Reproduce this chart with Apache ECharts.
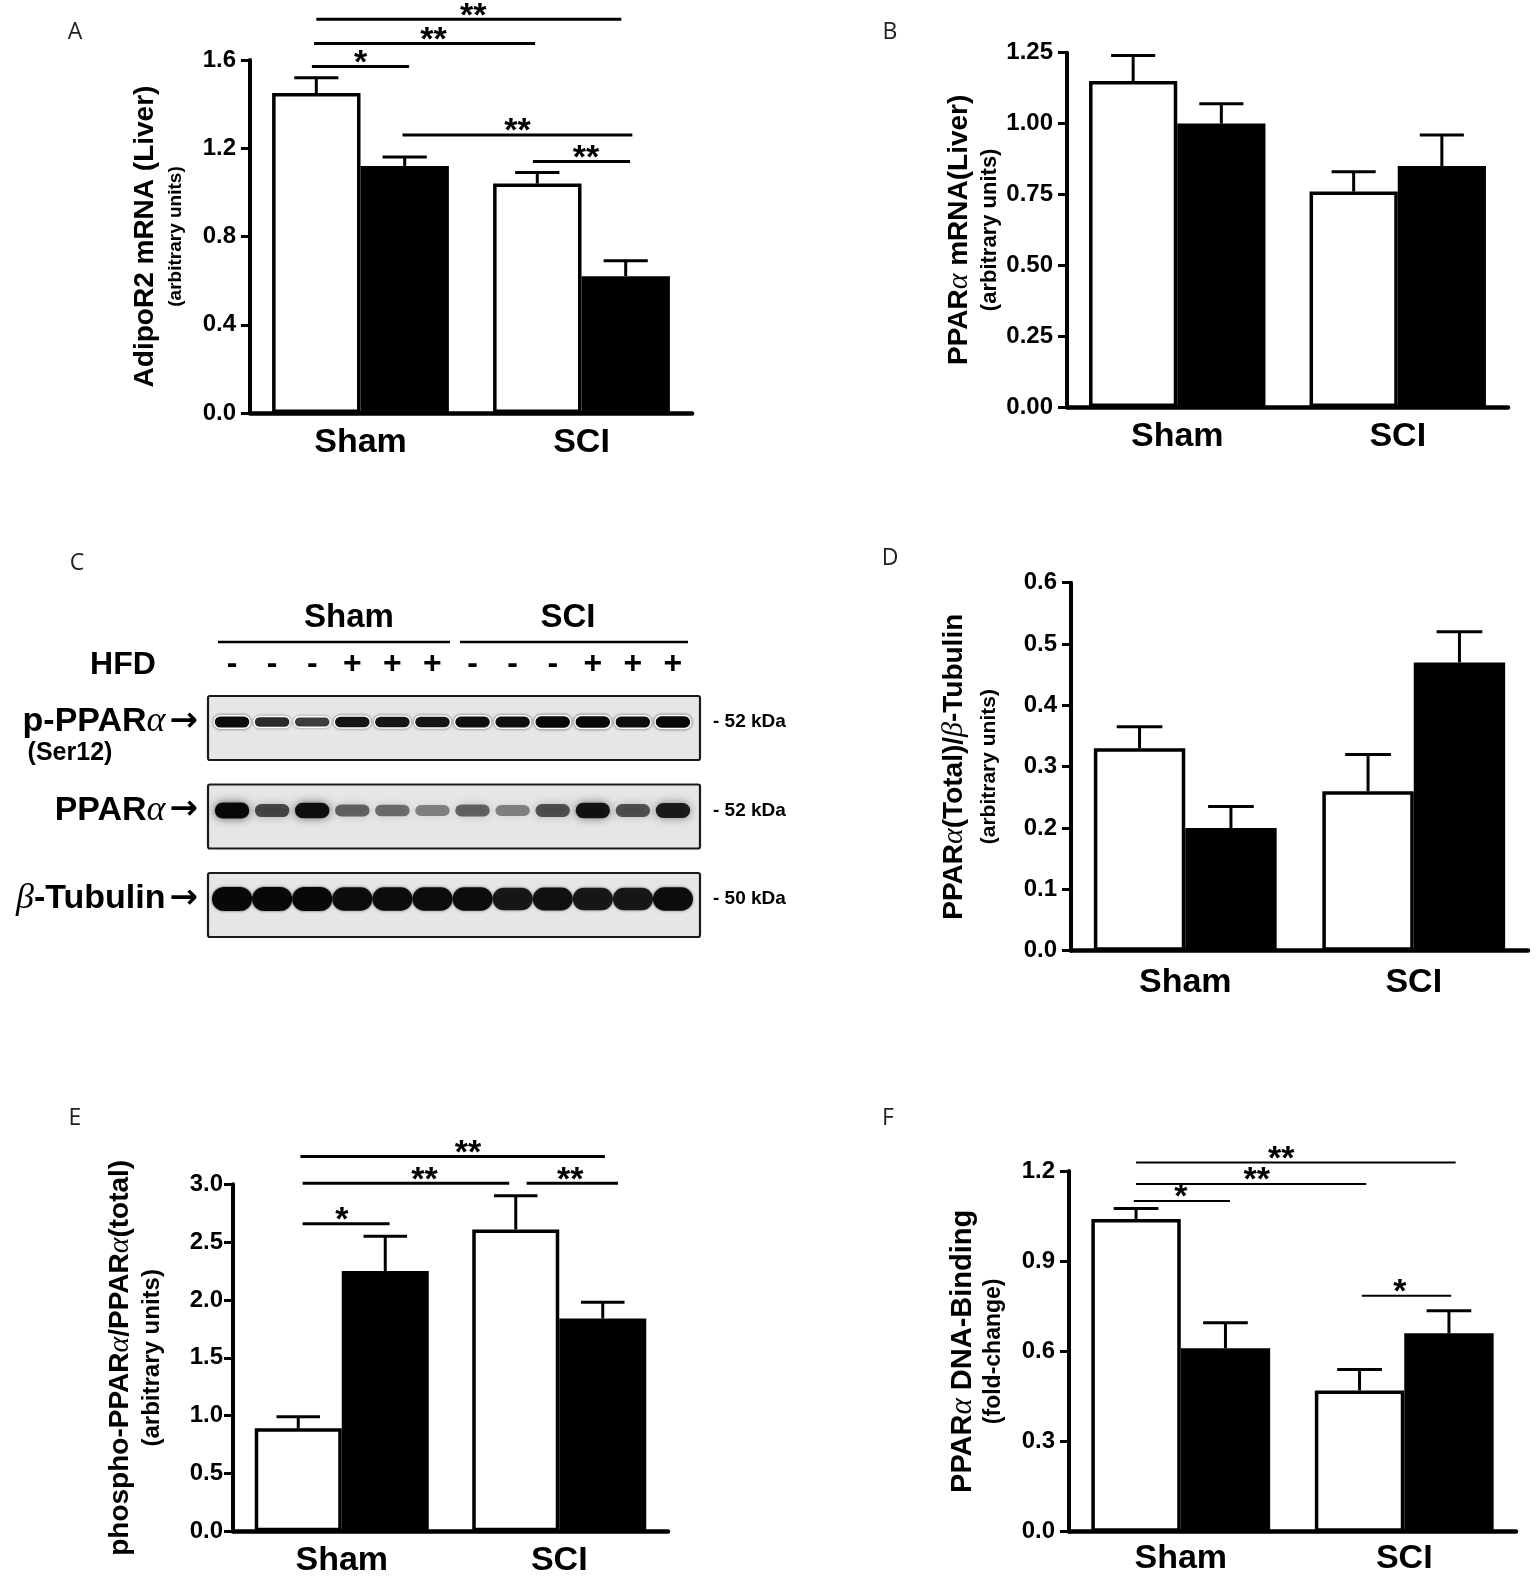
<!DOCTYPE html>
<html lang="en">
<head>
<meta charset="UTF-8">
<title>AdipoR2 / PPARα in liver</title>
<script src="https://cdn.jsdelivr.net/npm/echarts@6/dist/echarts.min.js"></script>
<style>
  body { margin: 0; background: #fff; }
  #chart { width: 1536px; height: 1585px; }
</style>
</head>
<body>
<div id="chart"></div>
<script>
var groups = ['Sham', 'SCI'];
var seriesNames = ['HFD -', 'HFD +'];

// A: AdipoR2 mRNA (liver)
var adipoWhite = [1.45, 1.04];
var adipoWhiteSem = [0.07, 0.05];
var adipoBlack = [1.12, 0.62];
var adipoBlackSem = [0.04, 0.07];
// [from, to, y, text, labelX]  from/to in category units (0 = Sham, 1 = SCI)
var adipoSig = [
  [-0.22, 0.22, 1.57, '*', 0.0],
  [-0.21, 0.79, 1.675, '**', 0.33],
  [-0.20, 1.18, 1.785, '**', 0.51],
  [0.19, 1.23, 1.26, '**', 0.71],
  [0.78, 1.22, 1.14, '**', 1.02]
];

// B: PPARα mRNA (liver)
var pparWhite = [1.15, 0.76];
var pparWhiteSem = [0.09, 0.07];
var pparBlack = [1.00, 0.85];
var pparBlackSem = [0.07, 0.11];
var pparSig = [];

// D: PPARα total / β-tubulin
var totalWhite = [0.33, 0.26];
var totalWhiteSem = [0.035, 0.06];
var totalBlack = [0.20, 0.47];
var totalBlackSem = [0.035, 0.05];
var totalSig = [];

// E: phospho / total PPARα
var phosWhite = [0.89, 2.61];
var phosWhiteSem = [0.10, 0.29];
var phosBlack = [2.25, 1.84];
var phosBlackSem = [0.30, 0.14];
var phosSig = [
  [-0.18, 0.22, 2.66, '*', 0.0],
  [-0.18, 0.77, 3.01, '**', 0.38],
  [0.85, 1.27, 3.01, '**', 1.05],
  [-0.19, 1.21, 3.24, '**', 0.58]
];

// F: PPARα DNA binding
var bindWhite = [1.04, 0.47];
var bindWhiteSem = [0.035, 0.07];
var bindBlack = [0.61, 0.66];
var bindBlackSem = [0.085, 0.075];
var bindSig = [
  [-0.21, 0.22, 1.10, '*', 0.0],
  [-0.20, 0.83, 1.157, '**', 0.34],
  [-0.20, 1.23, 1.228, '**', 0.45],
  [0.81, 1.21, 0.785, '*', 0.98]
];

// C: western blot
var hfdSigns = ['-', '-', '-', '+', '+', '+', '-', '-', '-', '+', '+', '+'];
var blotRows = ['p-PPARα', 'PPARα', 'β-Tubulin'];
var kdaLabels = ['- 52 kDa', '- 52 kDa', '- 50 kDa'];
var bandPhospho = [0.95, 0.7, 0.6, 0.85, 0.85, 0.85, 0.9, 0.9, 1.0, 1.0, 0.92, 1.0];
var bandTotal = [1.0, 0.6, 0.95, 0.45, 0.4, 0.3, 0.45, 0.3, 0.55, 0.9, 0.55, 0.85];
var bandTubulin = [1.0, 1.0, 1.0, 0.95, 0.95, 0.95, 0.95, 0.85, 0.9, 0.85, 0.85, 0.95];

var SANS = "'Liberation Sans', Arial, sans-serif";
var SERIF = "'Liberation Serif', 'DejaVu Serif', serif";

function toRich(s, base) {
  return s.split(/([αβ])/).filter(Boolean).map(function (part) {
    return (part === 'α' || part === 'β') ? '{g|' + part + '}' : '{' + base + '|' + part + '}';
  }).join('');
}

var panels = [
  { white: adipoWhite, whiteSem: adipoWhiteSem, black: adipoBlack, blackSem: adipoBlackSem, sig: adipoSig,
    max: 1.6, interval: 0.4, dec: 1, left: 250, top: 60, width: 442, height: 353,
    title: 'AdipoR2 mRNA (Liver)', sub: '(arbitrary units)', tSize: 28, tLh: 36, sSize: 19, sLh: 25, nameGap: 62,
    labelMargin: 14, catMargin: 13, sigWidth: 3 },
  { white: pparWhite, whiteSem: pparWhiteSem, black: pparBlack, blackSem: pparBlackSem, sig: pparSig,
    max: 1.25, interval: 0.25, dec: 2, left: 1067, top: 52.7, height: 354.3, width: 441,
    title: 'PPARα mRNA(Liver)', sub: '(arbitrary units)', tSize: 28, tLh: 36, sSize: 22, sLh: 26, nameGap: 64,
    labelMargin: 14, catMargin: 13, sigWidth: 3 },
  { white: totalWhite, whiteSem: totalWhiteSem, black: totalBlack, blackSem: totalBlackSem, sig: totalSig,
    max: 0.6, interval: 0.1, dec: 1, left: 1071, top: 582.7, height: 368, width: 457,
    title: 'PPARα(Total)/β-Tubulin', sub: '(arbitrary units)', tSize: 28, tLh: 40, sSize: 21, sLh: 30, nameGap: 67,
    labelMargin: 14, catMargin: 15, sigWidth: 3 },
  { white: phosWhite, whiteSem: phosWhiteSem, black: phosBlack, blackSem: phosBlackSem, sig: phosSig,
    max: 3.0, interval: 0.5, dec: 1, left: 233, top: 1184.3, height: 347, width: 435,
    title: 'phospho-PPARα/PPARα(total)', sub: '(arbitrary units)', tSize: 28, tLh: 36, sSize: 24, sLh: 28, nameGap: 67,
    labelMargin: 10, catMargin: 12, sigWidth: 3 },
  { white: bindWhite, whiteSem: bindWhiteSem, black: bindBlack, blackSem: bindBlackSem, sig: bindSig,
    max: 1.2, interval: 0.3, dec: 1, left: 1069, top: 1171, height: 360.7, width: 447,
    title: 'PPARα DNA-Binding', sub: '(fold-change)', tSize: 29, tLh: 34, sSize: 23, sLh: 27, nameGap: 62,
    labelMargin: 14, catMargin: 10, sigWidth: 2 }
];

var option = {
  backgroundColor: '#fff',
  animation: false,
  grid: [], xAxis: [], yAxis: [], series: [], graphic: []
};

function errRenderer(params, api) {
  var cat = api.value(0), mean = api.value(1), sem = api.value(2), side = api.value(3);
  var band = api.size([1, 0])[0];
  var base = api.coord([cat, mean]);
  var tip = api.coord([cat, mean + sem]);
  var cx = base[0] + (side ? 0.2 : -0.2) * band;
  var half = 0.1 * band;
  var st = { stroke: '#000', lineWidth: 3 };
  return { type: 'group', children: [
    { type: 'line', shape: { x1: cx, y1: base[1], x2: cx, y2: tip[1] }, style: st },
    { type: 'line', shape: { x1: cx - half, y1: tip[1], x2: cx + half, y2: tip[1] }, style: st }
  ] };
}

function sigRenderer(sig, lw) {
  return function (params, api) {
    var s = sig[params.dataIndex];
    var band = api.size([1, 0])[0];
    var p0 = api.coord([0, s[2]]);
    var lx = p0[0] + (s[4] != null ? s[4] : (s[0] + s[1]) / 2) * band;
    return { type: 'group', children: [
      { type: 'line', shape: { x1: p0[0] + s[0] * band, y1: p0[1], x2: p0[0] + s[1] * band, y2: p0[1] },
        style: { stroke: '#000', lineWidth: lw } },
      { type: 'text', x: lx, y: p0[1] - 3,
        style: { text: s[3], fontSize: 34, fontWeight: 'bold', fontFamily: SANS, fill: '#000',
                 align: 'center', verticalAlign: 'middle' } }
    ] };
  };
}

panels.forEach(function (p, gi) {
  option.grid.push({ left: p.left, top: p.top, width: p.width, height: p.height, containLabel: false, outerBoundsMode: 'none' });
  option.xAxis.push({
    type: 'category', gridIndex: gi, data: groups,
    axisLine: { lineStyle: { color: '#000', width: 4.5, cap: 'round' } },
    axisTick: { show: false },
    axisLabel: { interval: 0, margin: p.catMargin, color: '#000', fontSize: 34, fontWeight: 'bold', fontFamily: SANS }
  });
  var richTitle = { fontSize: p.tSize, fontWeight: 'bold', fontFamily: SANS, color: '#000', lineHeight: p.tLh };
  option.yAxis.push({
    type: 'value', gridIndex: gi, min: 0, max: p.max, interval: p.interval,
    splitLine: { show: false },
    axisLine: { show: true, lineStyle: { color: '#000', width: 4 } },
    axisTick: { show: true, length: 9, lineStyle: { color: '#000', width: 3 } },
    axisLabel: { margin: p.labelMargin, color: '#000', fontSize: 24, fontWeight: 'bold', fontFamily: SANS,
                 formatter: (function (d) { return function (v) { return v.toFixed(d); }; })(p.dec) },
    name: toRich(p.title, 'a') + '\n' + toRich(p.sub, 'b'),
    nameLocation: 'middle', nameRotate: 90, nameGap: p.nameGap, nameMoveOverlap: false,
    nameTextStyle: { rich: {
      a: richTitle,
      g: { fontSize: p.tSize + 2, fontFamily: SERIF, fontStyle: 'italic', color: '#000', lineHeight: p.tLh },
      b: { fontSize: p.sSize, fontWeight: 'bold', fontFamily: SANS, color: '#000', lineHeight: p.sLh }
    } }
  });
  option.series.push({
    name: seriesNames[0], type: 'bar', xAxisIndex: gi, yAxisIndex: gi, data: p.white,
    barGap: '0%', barCategoryGap: '20%',
    itemStyle: { color: '#fff', borderColor: '#000', borderWidth: 3.5 }
  });
  option.series.push({
    name: seriesNames[1], type: 'bar', xAxisIndex: gi, yAxisIndex: gi, data: p.black,
    barGap: '0%', barCategoryGap: '20%',
    itemStyle: { color: '#000' }
  });
  var err = [];
  p.white.forEach(function (m, i) { err.push([i, m, p.whiteSem[i], 0]); });
  p.black.forEach(function (m, i) { err.push([i, m, p.blackSem[i], 1]); });
  option.series.push({
    type: 'custom', xAxisIndex: gi, yAxisIndex: gi, data: err, encode: { x: 0, y: 1 },
    renderItem: errRenderer, clip: false, z: 3
  });
  if (p.sig.length) {
    option.series.push({
      type: 'custom', xAxisIndex: gi, yAxisIndex: gi,
      data: p.sig.map(function (s) { return [0, s[2]]; }), encode: { x: 0, y: 1 },
      renderItem: sigRenderer(p.sig, p.sigWidth), clip: false, z: 4
    });
  }
});

// ---- panel C: blot drawn on its own lane/row grid ----
var blotGrid = option.grid.length;
option.grid.push({ left: 212, top: 677.75, width: 481, height: 265.5, containLabel: false, outerBoundsMode: 'none' });
option.xAxis.push({
  type: 'category', gridIndex: blotGrid, position: 'top', data: hfdSigns,
  axisLine: { show: false }, axisTick: { show: false },
  axisLabel: { interval: 0, margin: -2, color: '#000', fontSize: 32, fontWeight: 'bold', fontFamily: SANS }
});
var blotY = option.yAxis.length;
option.yAxis.push({
  type: 'category', gridIndex: blotGrid, inverse: true, data: blotRows, position: 'left',
  axisLine: { show: false }, axisTick: { show: false }, splitLine: { show: false },
  axisLabel: {
    interval: 0, margin: 14, color: '#000',
    formatter: function (v) { return toRich(v, 't') + '{ar|→}'; },
    rich: {
      t: { fontSize: 34, fontWeight: 'bold', fontFamily: SANS, color: '#000' },
      g: { fontSize: 36, fontStyle: 'italic', fontFamily: SERIF, color: '#000' },
      ar: { fontSize: 34, fontWeight: 'bold', fontFamily: "'DejaVu Sans', sans-serif", color: '#000', padding: [0, 0, 0, 4] }
    }
  }
});
option.yAxis.push({
  type: 'category', gridIndex: blotGrid, inverse: true, data: blotRows, position: 'right',
  axisLine: { show: false }, axisTick: { show: false }, splitLine: { show: false },
  axisLabel: { interval: 0, margin: 20, color: '#000', fontSize: 19, fontWeight: 'bold', fontFamily: SANS,
               formatter: function (v, i) { return kdaLabels[i]; } }
});

var bandRows = [bandPhospho, bandTotal, bandTubulin];
var bandH = [13, 16, 24];
var bandW = [0.9, 0.86, 1.0];
var bandData = [];
bandRows.forEach(function (row, r) {
  row.forEach(function (k, lane) { bandData.push([lane, r, k]); });
});

option.series.push({
  type: 'custom', xAxisIndex: blotGrid, yAxisIndex: blotY,
  data: blotRows.map(function (n, r) { return [0, r]; }), encode: { x: 0, y: 1 }, clip: false, z: 1,
  renderItem: function (params, api) {
    var cs = params.coordSys;
    var c = api.coord([0, api.value(1)]);
    return { type: 'rect',
      shape: { x: cs.x - 4, y: c[1] - 26, width: cs.width + 11, height: 64, r: 2 },
      style: { fill: '#e6e6e6', stroke: '#1a1a1a', lineWidth: 2.2 } };
  }
});
option.series.push({
  type: 'custom', xAxisIndex: blotGrid, yAxisIndex: blotY,
  data: bandData, encode: { x: 0, y: 1 }, clip: false, z: 2,
  renderItem: function (params, api) {
    var lane = api.value(0), row = api.value(1), k = api.value(2);
    var c = api.coord([lane, row]);
    var w = api.size([1, 1])[0] * bandW[row];
    var h = bandH[row] * (0.55 + 0.45 * k);
    return { type: 'rect',
      shape: { x: c[0] - w / 2, y: c[1] - h / 2, width: w, height: h, r: h / 2 },
      style: { fill: 'rgba(8,8,8,' + (0.2 + 0.8 * k).toFixed(2) + ')',
               stroke: row === 0 ? '#fff' : null, lineWidth: 1.5,
               shadowBlur: row === 1 ? 10 : 3, shadowColor: 'rgba(0,0,0,' + (0.6 * k).toFixed(2) + ')' } };
  }
});

function txt(x, y, s, size, weight, family, color) {
  return { type: 'text', x: x, y: y, silent: true,
    style: { text: s, fontSize: size, fontWeight: weight || 'normal', fontFamily: family || SANS,
             fill: color || '#000', align: 'center', verticalAlign: 'middle' } };
}
function hline(x1, x2, y, w) {
  return { type: 'line', silent: true, shape: { x1: x1, y1: y, x2: x2, y2: y },
           style: { stroke: '#000', lineWidth: w } };
}

var LETTER = "'Open Sans', 'Noto Sans', sans-serif";
option.graphic = [
  txt(75, 32, 'A', 23, 'normal', LETTER, '#222'),
  txt(890, 32, 'B', 23, 'normal', LETTER, '#222'),
  txt(77, 563, 'C', 23, 'normal', LETTER, '#222'),
  txt(890, 558, 'D', 23, 'normal', LETTER, '#222'),
  txt(75, 1118, 'E', 23, 'normal', LETTER, '#222'),
  txt(888, 1118, 'F', 23, 'normal', LETTER, '#222'),
  txt(349, 618, groups[0], 33, 'bold'),
  txt(568, 618, groups[1], 33, 'bold'),
  hline(218, 450, 642, 2.5),
  hline(460, 688, 642, 2.5),
  txt(123, 665, 'HFD', 32, 'bold'),
  txt(70, 753, '(Ser12)', 25, 'bold')
];

var chart = echarts.init(document.getElementById('chart'), null, { renderer: 'canvas' });
chart.setOption(option);
</script>
</body>
</html>
